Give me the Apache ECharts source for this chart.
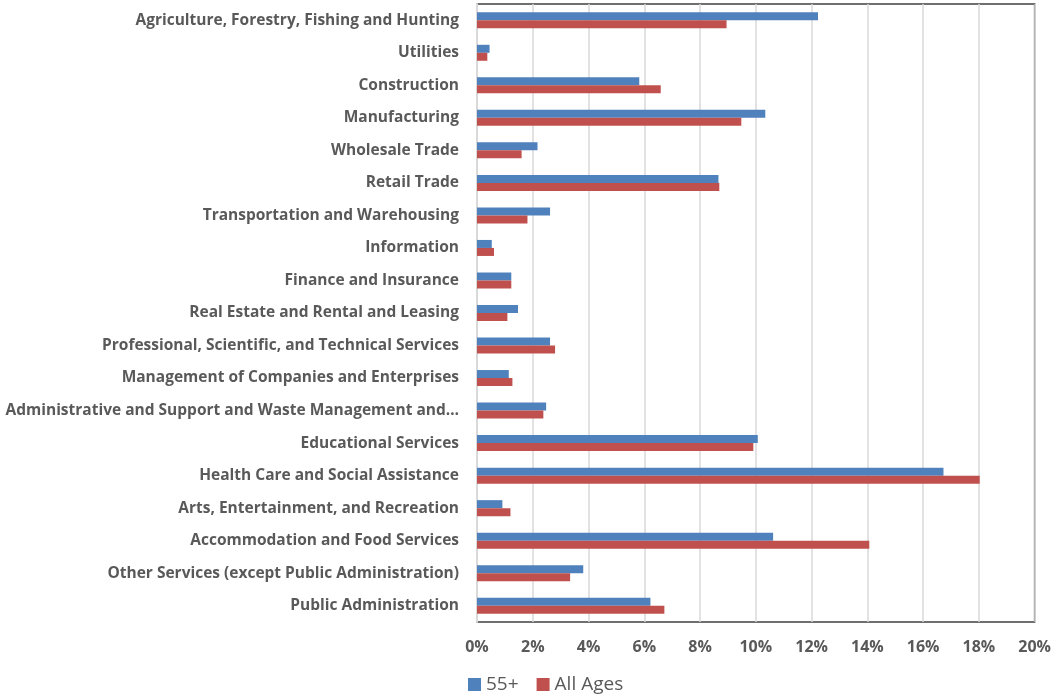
<!DOCTYPE html>
<html>
<head>
<meta charset="utf-8">
<script src="https://cdn.jsdelivr.net/npm/echarts@6/dist/echarts.min.js"></script>
<style>
  html, body { margin: 0; padding: 0; background: #fff; }
  #chart { width: 1054px; height: 695px; }
</style>
</head>
<body>
<div id="chart"></div>
<script>
// industries, top to bottom
const industries = [
  'Agriculture, Forestry, Fishing and Hunting',
  'Utilities',
  'Construction',
  'Manufacturing',
  'Wholesale Trade',
  'Retail Trade',
  'Transportation and Warehousing',
  'Information',
  'Finance and Insurance',
  'Real Estate and Rental and Leasing',
  'Professional, Scientific, and Technical Services',
  'Management of Companies and Enterprises',
  'Administrative and Support and Waste Management and…',
  'Educational Services',
  'Health Care and Social Assistance',
  'Arts, Entertainment, and Recreation',
  'Accommodation and Food Services',
  'Other Services (except Public Administration)',
  'Public Administration'
];
// share of workers, percent
const age55 = [12.23, 0.45, 5.82, 10.34, 2.17, 8.66, 2.62, 0.53, 1.23, 1.47, 2.62, 1.14, 2.48, 10.07, 16.73, 0.91, 10.62, 3.81, 6.22];
const allAges = [8.95, 0.37, 6.59, 9.48, 1.60, 8.69, 1.81, 0.61, 1.23, 1.09, 2.80, 1.27, 2.38, 9.91, 18.03, 1.20, 14.07, 3.34, 6.72];

const textColor = '#595959';
const font = '"Open Sans", Lato, sans-serif';

let chart = echarts.init(document.getElementById('chart'));
chart.setOption({
  animation: false,
  textStyle: { fontFamily: font },
  color: ['#4F81BD', '#C0504D'],
  grid: {
    left: 477, right: 18, top: 4, bottom: 73,
    show: true,
    borderColor: '#404040',
    borderWidth: 1.5
  },
  legend: {
    left: 463,
    top: 670,
    itemWidth: 13,
    itemHeight: 13,
    itemGap: 18,
    icon: 'rect',
    textStyle: { color: textColor, fontSize: 19, fontFamily: font },
    data: ['55+', 'All Ages']
  },
  xAxis: {
    type: 'value',
    min: 0,
    max: 20,
    interval: 2,
    axisLine: { show: false },
    axisTick: { show: false },
    splitLine: { lineStyle: { color: '#d9d9d9', width: 1.5 } },
    axisLabel: {
      formatter: '{value}%',
      color: textColor,
      fontSize: 16,
      fontWeight: 'bold',
      margin: 17
    }
  },
  yAxis: {
    type: 'category',
    inverse: true,
    data: industries,
    axisLine: { lineStyle: { color: '#d9d9d9', width: 2 } },
    axisTick: { show: false },
    axisLabel: {
      color: textColor,
      fontSize: 15.5,
      fontWeight: 'bold',
      margin: 18
    }
  },
  series: [
    {
      name: '55+',
      type: 'bar',
      barWidth: 8,
      barGap: '0%',
      data: age55
    },
    {
      name: 'All Ages',
      type: 'bar',
      barWidth: 8,
      barGap: '0%',
      data: allAges
    }
  ]
});
</script>
</body>
</html>
